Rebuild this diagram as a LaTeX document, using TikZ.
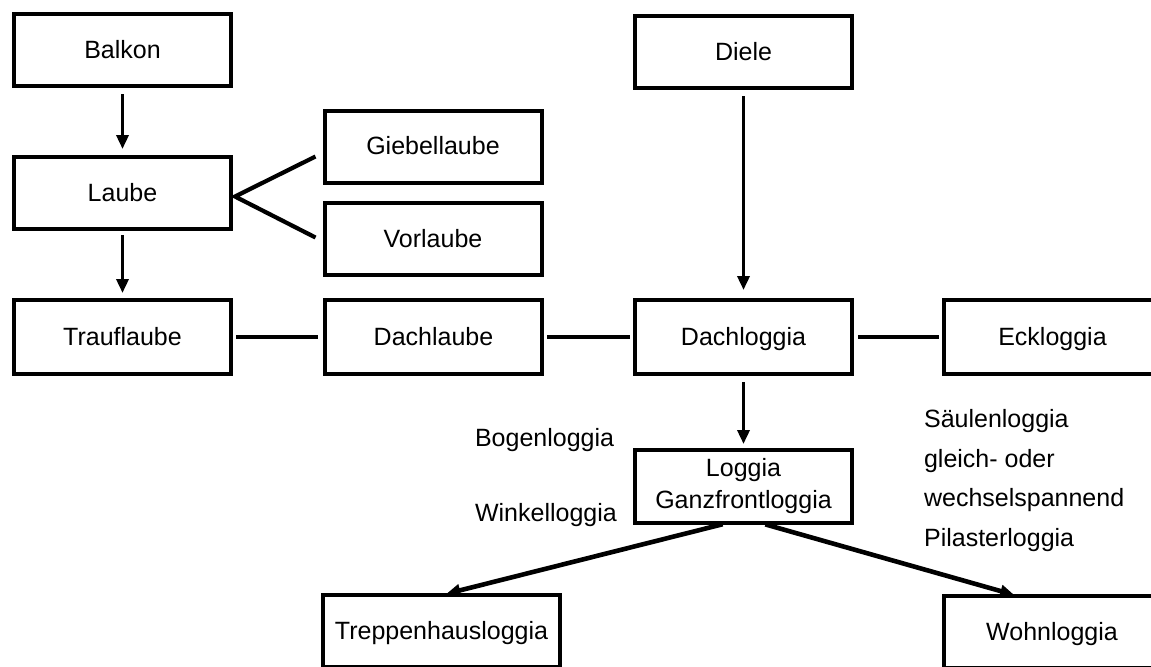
\documentclass[tikz,border=0pt]{standalone}
\usepackage{fontspec}
\setmainfont{Liberation Sans}
\usetikzlibrary{arrows.meta, positioning}

\begin{document}
\begin{tikzpicture}[x=0.5pt,y=-0.5pt,>={Triangle[length=7pt,width=6pt]},font=\fontsize{12.5}{16}\selectfont,
	arr/.style={->,line width=1.7pt},link/.style={line width=2.3pt}]
	\tikzset{box/.style={draw, line width=2pt, minimum width=108.5pt, minimum height=36pt, inner sep=0pt, outer sep=0pt,
		align=center, text height=2ex, text depth=0.4ex}}
	\useasboundingbox (0,0) rectangle (1151,666);
	% left column
	\node[box] (balkon) at (122.5,50) {Balkon};
	\node[box] (laube) [below=35.5pt of balkon] {Laube};
	\node[box, minimum height=37pt] (trauf) [below=35.5pt of laube] {Trauflaube};
	\node[box] (giebel) at (433,146.5) {Giebellaube};
	\node[box] (vor) at (433,239) {Vorlaube};
	% middle row
	\node[box, minimum height=37pt] (dachlaube) [right=47pt of trauf] {Dachlaube};
	\node[box, minimum height=37pt] (dachloggia) [right=46.5pt of dachlaube] {Dachloggia};
	\node[box, minimum height=37pt] (eck) [right=46pt of dachloggia] {Eckloggia};
	\node[box] (diele) at (743.5,52) {Diele};
	\node[box, minimum height=36.5pt, text height=, text depth=] (loggia) [below=38pt of dachloggia] {Loggia\\Ganzfrontloggia};
	\node[box, minimum width=118.5pt] (treppen) at (441.5,631) {Treppenhausloggia};
	\node[box] (wohn) at (1052,632) {Wohnloggia};
	% side texts
	\node[anchor=west] (bogen) at (468,440) {Bogenloggia};
	\node[anchor=west] (winkel) at (468,515) {Winkelloggia};
	\node[anchor=west, align=left, font=\fontsize{12.5}{19.8}\selectfont] (saeulen) at (917,480.5)
		{Säulenloggia\\gleich- oder\\wechselspannend\\Pilasterloggia};
	% fork
	\coordinate (fork) at ([xshift=2pt,yshift=-1.75pt]laube.east);
	\coordinate (giebelend) at ([xshift=-4.5pt,yshift=-5pt]giebel.west);
	\coordinate (vorend) at ([xshift=-4.5pt,yshift=0.75pt]vor.west);
	\draw[line width=2.1pt] (giebelend) -- (fork) -- (vorend);
	\path
		(balkon)
			edge[arr, shorten <=4pt, shorten >=4pt] (laube)
		(laube)
			edge[arr, shorten <=3pt, shorten >=3.5pt] (trauf)
		(diele)
			edge[arr, shorten <=4pt, shorten >=5pt] (dachloggia)
		(dachloggia)
			edge[arr, shorten <=4pt, shorten >=3pt] (loggia)
			edge[link, shorten <=3pt, shorten >=2.5pt] (eck)
		(trauf)
			edge[link, shorten <=2.5pt, shorten >=3.5pt] (dachlaube)
		(dachlaube)
			edge[link, shorten <=2.5pt, shorten >=2.5pt] (dachloggia)
		([xshift=-8pt]loggia.south)
			edge[arr, line width=2.3pt, shorten <=2.5pt, shorten >=2.5pt] (treppen.north)
		([xshift=8.5pt]loggia.south)
			edge[arr, line width=2.3pt, shorten <=2.5pt, shorten >=2pt] ([xshift=-17pt]wohn.north);
\end{tikzpicture}
\end{document}
